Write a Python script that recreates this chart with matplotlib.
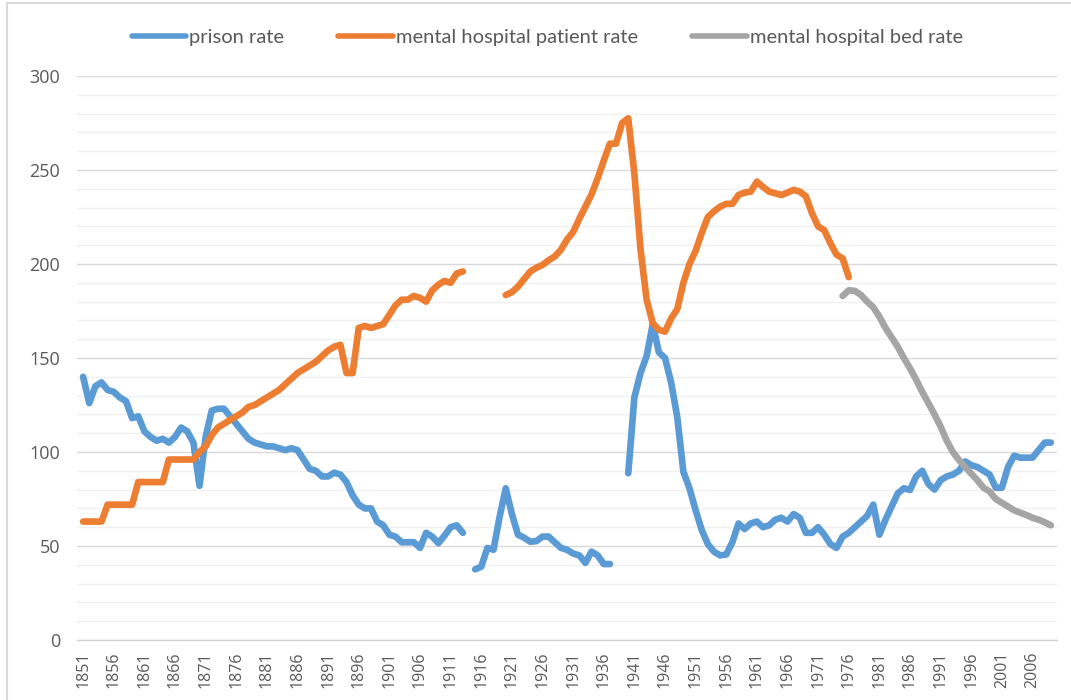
import numpy as np
import matplotlib
matplotlib.use("Agg")
import matplotlib.pyplot as plt
from matplotlib.lines import Line2D
from matplotlib.ticker import MultipleLocator

nan = np.nan

years = list(range(1851, 2010))

prison_rate = [
	140, 126, 135, 137, 133, 132, 129, 127, 118, 119,   # 1851-1860
	111, 108, 106, 107, 105, 108, 113, 111, 105, 82,    # 1861-1870
	108, 122, 123, 123, 119, 115, 111, 107, 105, 104,   # 1871-1880
	103, 103, 102, 101, 102, 101, 96, 91, 90, 87,       # 1881-1890
	87, 89, 88, 84, 77, 72, 70, 70, 63, 61,             # 1891-1900
	56, 55, 52, 52, 52, 49, 57, 55, 51.5, 55.5,         # 1901-1910
	60, 61, 57, nan, 37.6, 39, 49, 48, 65.6, 80.7,      # 1911-1920
	67, 56, 54.4, 52.3, 52.6, 55, 55, 52, 49, 48,       # 1921-1930
	46, 45, 41, 47, 45, 40.4, 40.4, nan, nan, 88.7,     # 1931-1940
	129, 142, 151, 168, 153, 150, 137, 118.6, 89.5, 80.7,  # 1941-1950
	69, 58.5, 51, 47, 45, 45.5, 52, 62, 59, 62,         # 1951-1960
	63, 60, 61, 64, 65, 63, 67, 65, 57, 57,             # 1961-1970
	60, 56, 51, 49, 55, 57, 60, 63, 66, 72,             # 1971-1980
	56, 64, 71, 78, 80.7, 79.8, 87, 90, 83, 80,         # 1981-1990
	85, 87, 88, 90, 95, 93, 92, 90, 88, 81,             # 1991-2000
	81, 92, 98, 97, 97, 97, 101, 105, 105,              # 2001-2009
]

patient_rate = [
	63, 63, 63, 63, 72, 72, 72, 72, 72, 84,             # 1851-1860
	84, 84, 84, 84, 96, 96, 96, 96, 96, 100,            # 1861-1870
	103, 109, 113, 115, 117, 119, 121, 124, 125, 127,   # 1871-1880
	129, 131, 133, 136, 139, 142, 144, 146, 148, 151,   # 1881-1890
	154, 156, 157, 142, 142, 166, 167, 166, 167, 168,   # 1891-1900
	173, 178, 181, 181, 183, 182, 180, 186, 189, 191,   # 1901-1910
	190, 195, 196, nan, nan, nan, nan, nan, nan, 183.5, # 1911-1920
	185, 188, 192, 196, 198, 199.5, 202, 204, 207.5, 213,  # 1921-1930
	217, 224, 230.5, 237, 245.5, 255, 264, 264, 275, 277.5,  # 1931-1940
	248, 208, 181, 168.5, 165, 164, 171, 176, 190, 200,  # 1941-1950
	207, 216.5, 225, 228, 230.5, 232, 232, 236.7, 238, 238.5,  # 1951-1960
	243.8, 241, 238.5, 237.6, 236.7, 238, 239.4, 238.5, 236, 227,  # 1961-1970
	220, 218, 211, 205, 203, 193,                       # 1971-1976
] + [nan] * 33

bed_rate = [nan] * 124 + [
	183, 186, 185.7, 183.5, 180, 177, 172, 166, 161, 156,  # 1975-1984
	150, 144.5, 138.5, 132, 126, 120, 113.5, 106, 100, 95.7,  # 1985-1994
	92, 88.5, 85, 81, 79, 75, 73, 71, 69, 67.7,         # 1995-2004
	66.5, 65, 64, 62.6, 61,                             # 2005-2009
]

series_names = ["prison rate", "mental hospital patient rate", "mental hospital bed rate"]
series_colors = ["#5B9BD5", "#ED7D31", "#A5A5A5"]

tick_years = list(range(1851, 2010, 5))

txt = "#595959"

fig = plt.figure(figsize=(10.71, 7.0), dpi=100)
ax = fig.add_axes([77 / 1071, 60 / 700, 980 / 1071, 564 / 700])

for vals, name, col in zip([prison_rate, patient_rate, bed_rate], series_names, series_colors):
	ax.plot(years, np.array(vals, dtype=float), color=col, lw=4.8, label=name,
		solid_capstyle="round", solid_joinstyle="round")

ax.set_xlim(1850, 2010)
ax.set_ylim(0, 300)
ax.yaxis.set_major_locator(MultipleLocator(50))
ax.yaxis.set_minor_locator(MultipleLocator(10))
ax.set_xticks(tick_years)
ax.set_xticklabels([str(y) for y in tick_years], rotation=90)

ax.grid(axis="y", which="major", color="#d9d9d9", lw=1.0)
ax.grid(axis="y", which="minor", color="#f0f0f0", lw=1.0)
ax.set_axisbelow(True)

for s in ["top", "right", "left"]:
	ax.spines[s].set_visible(False)
ax.spines["bottom"].set_color("#d0d0d0")
ax.spines["bottom"].set_linewidth(1.0)

ax.tick_params(axis="both", which="both", length=0, colors=txt)
ax.tick_params(axis="y", pad=12, labelsize=13)
ax.tick_params(axis="x", pad=8, labelsize=11.5)
for lab in ax.get_xticklabels() + ax.get_yticklabels():
	lab.set_family("Open Sans")

leg = fig.legend(loc="center", bbox_to_anchor=(0.511, 0.947), ncol=3, frameon=False,
	prop={"family": "Lato", "size": 14.5}, handlelength=2.7, handletextpad=0.15,
	columnspacing=2.7)
for t in leg.get_texts():
	t.set_color(txt)
for h in leg.legend_handles:
	h.set_linewidth(4.0)

# outer chart border (left and top edges visible)
fig.add_artist(Line2D([7 / 1071, 7 / 1071], [0, 697 / 700], color="#d9d9d9", lw=1.5))
fig.add_artist(Line2D([7 / 1071, 1], [697 / 700, 697 / 700], color="#d9d9d9", lw=1.5))

fig.savefig("out.png", dpi=100)
